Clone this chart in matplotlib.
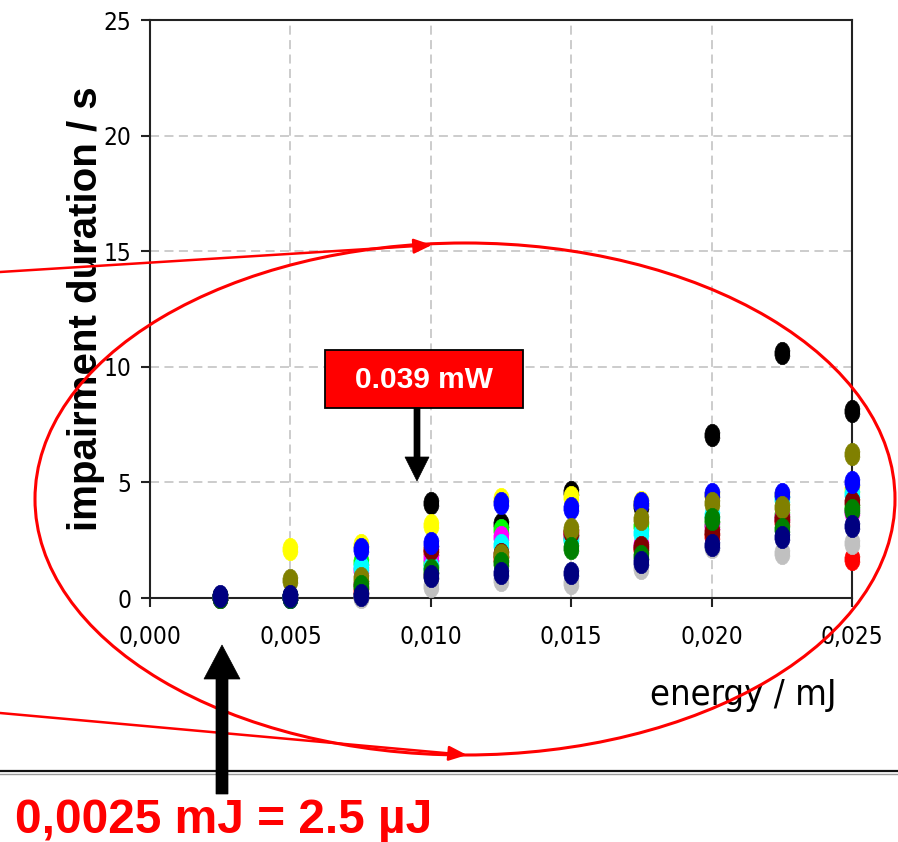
import matplotlib
matplotlib.use("Agg")
import matplotlib.pyplot as plt
import numpy as np
from matplotlib import font_manager
from matplotlib.font_manager import FontProperties
from matplotlib.patches import Ellipse, Polygon, Rectangle, FancyArrowPatch
from matplotlib.lines import Line2D
from matplotlib.path import Path
from matplotlib.transforms import Affine2D
from matplotlib.ticker import FuncFormatter

# ---- measurement data: impairment duration (s) vs. pulse energy (mJ) ----
energy = [0.0025, 0.005, 0.0075, 0.010, 0.0125, 0.015, 0.0175, 0.020, 0.0225, 0.025]

dur_red       = [0.05, 0.05, 0.30, 2.00, 1.70, 2.80, 2.10, 2.70, 3.30, 1.70]
dur_black     = [0.05, 0.05, 0.10, 4.10, 3.20, 4.60, 4.00, 7.05, 10.60, 8.10]
dur_yellow    = [0.05, 2.10, 2.30, 3.15, 4.30, 4.35, 4.15, 4.45, 4.45, 4.70]
dur_silver    = [0.05, 0.05, 0.05, 0.50, 0.80, 0.65, 1.30, 2.20, 1.95, 2.40]
dur_lime      = [0.05, 0.05, 1.55, 1.50, 2.95, 2.60, 3.10, 3.20, 3.60, 3.90]
dur_magenta   = [0.05, 0.05, 1.20, 1.75, 2.65, 2.70, 2.30, 3.10, 3.50, 3.70]
dur_cyan      = [0.05, 0.05, 1.35, 1.35, 2.30, 2.50, 2.80, 3.60, 4.30, 4.50]
dur_maroon    = [0.05, 0.05, 0.60, 2.10, 1.90, 2.85, 2.20, 2.85, 3.40, 4.15]
dur_blue      = [0.05, 0.05, 2.10, 2.40, 4.10, 3.90, 4.10, 4.50, 4.50, 5.00]
dur_olive     = [0.05, 0.80, 0.85, 1.00, 1.85, 3.00, 3.40, 4.10, 3.95, 6.25]
dur_darkgreen = [0.05, 0.05, 0.50, 1.20, 1.50, 2.15, 1.80, 3.40, 3.00, 3.80]
dur_navy      = [0.10, 0.10, 0.15, 0.95, 1.10, 1.10, 1.55, 2.30, 2.65, 3.10]

series = [
    (dur_red, "#FF0000"),
    (dur_black, "#000000"),
    (dur_yellow, "#FFFF00"),
    (dur_silver, "#C0C0C0"),
    (dur_lime, "#00FF00"),
    (dur_magenta, "#FF00FF"),
    (dur_cyan, "#00FFFF"),
    (dur_maroon, "#800000"),
    (dur_blue, "#0000FF"),
    (dur_olive, "#808000"),
    (dur_darkgreen, "#008000"),
    (dur_navy, "#000080"),
]

x_ticks = [0.000, 0.005, 0.010, 0.015, 0.020, 0.025]
y_ticks = [0, 5, 10, 15, 20, 25]

# ---- fonts: prefer a narrow sans face for the axis texts ----
plt.rcParams["font.family"] = ["Liberation Sans", "DejaVu Sans"]
narrow_fp = None
for f in font_manager.fontManager.ttflist:
    nm = f.name.lower()
    fn = f.fname.lower()
    is_narrow = ("narrow" in nm or "condensed" in nm or "narrow" in fn
                 or "condensed" in fn or f.stretch in ("condensed", "semi-condensed"))
    if is_narrow and f.style == "normal" and "serif" not in nm and "mono" not in nm \
            and ("bold" not in fn) and ("light" not in fn):
        narrow_fp = FontProperties(fname=f.fname)
        break
if narrow_fp is not None:
    tick_fs, xlab_fs = 17.5, 26
else:
    narrow_fp = FontProperties(family="Liberation Sans")
    tick_fs, xlab_fs = 17, 24

W, H, DPI = 898, 842, 100
fig = plt.figure(figsize=(W / DPI, H / DPI), dpi=DPI)
fig.patch.set_facecolor("white")

# transform for annotation shapes given in pixels, origin at top-left
pix = Affine2D().scale(1 / DPI, -1 / DPI).translate(0, H / DPI) + fig.dpi_scale_trans

ax = fig.add_axes([150 / W, 1 - 598 / H, 702 / W, 578 / H])
ax.set_xlim(0, 0.025)
ax.set_ylim(0, 25)

# slightly tall octagon-like dot marker
t = np.linspace(0, 2 * np.pi, 17)[:-1] + np.pi / 16
dot = Path(np.column_stack([0.68 * np.cos(t), np.sin(t)]) * 0.5)

for vals, col in series:
    ax.plot(energy, vals, linestyle="none", marker=dot, markersize=16,
            markerfacecolor=col, markeredgecolor=col, markeredgewidth=0.5,
            clip_on=False, zorder=3)

ax.set_xticks(x_ticks)
ax.set_yticks(y_ticks)
ax.xaxis.set_major_formatter(FuncFormatter(lambda v, p: f"{v:.3f}".replace(".", ",")))
ax.yaxis.set_major_formatter(FuncFormatter(lambda v, p: f"{v:.0f}"))
ax.grid(True, color="#C8C8C8", linestyle=(0, (5, 3)), linewidth=1.3)
ax.set_axisbelow(True)
for s in ax.spines.values():
    s.set_linewidth(1.5)
    s.set_color("#222222")
ax.tick_params(axis="both", direction="out", length=6.5, width=1.5, color="#222222")
ax.tick_params(axis="x", pad=13)
ax.tick_params(axis="y", pad=7)
for lab in ax.get_xticklabels() + ax.get_yticklabels():
    lab.set_fontproperties(narrow_fp)
    lab.set_fontsize(tick_fs)

ax.set_ylabel("impairment duration / s", fontsize=29, fontweight="bold",
              ha="center", va="center")
ax.yaxis.set_label_coords((86 - 150) / 702, 0.5)
xl = ax.set_xlabel("energy / mJ", ha="center", va="center")
xl.set_fontproperties(narrow_fp)
xl.set_fontsize(xlab_fs)
ax.xaxis.set_label_coords((743 - 150) / 702, (598 - 695) / 578)

# ---- annotations ----
# horizontal divider
fig.add_artist(Line2D([0, W], [771, 771], transform=pix, color="#111111", lw=1.6))
fig.add_artist(Line2D([0, W], [774, 774], transform=pix, color="#9A9A9A", lw=1.0))

# red ellipse and the two leader arrows
fig.add_artist(Ellipse((465, 499), 860, 512, transform=pix, fill=False,
                       edgecolor="#FF0000", lw=2.2, zorder=5))
for (x0, y0), (x1, y1) in [((0, 272), (432, 245)), ((0, 713), (467, 755))]:
    fig.add_artist(FancyArrowPatch((x0, y0), (x1, y1), transform=pix,
                                   arrowstyle="-|>,head_length=1.1,head_width=0.45",
                                   mutation_scale=10, shrinkA=0, shrinkB=0,
                                   color="#FF0000", lw=1.8, zorder=5))

# power label box with arrow
fig.add_artist(Rectangle((325, 350), 198, 58, transform=pix, facecolor="#FF0000",
                         edgecolor="#000000", lw=1.3, zorder=6))
fig.text(424, 380, "0.039 mW", transform=pix, color="white", fontsize=21.5,
         fontweight="bold", ha="center", va="center", zorder=7)
fig.add_artist(Polygon([(414, 408), (420, 408), (420, 457), (429, 457),
                        (417, 481), (405, 457), (414, 457)],
                       closed=True, transform=pix, facecolor="black",
                       edgecolor="black", lw=0.5, zorder=6))

# energy pointer arrow
fig.add_artist(Polygon([(216, 794), (228, 794), (228, 679), (240, 679),
                        (222, 645), (204, 679), (216, 679)],
                       closed=True, transform=pix, facecolor="black",
                       edgecolor="black", lw=0.5, zorder=6))

fig.text(15, 833, "0,0025 mJ = 2.5 µJ", transform=pix, color="#FF0000",
         fontsize=34.5, fontweight="bold", ha="left", va="baseline", zorder=7)

fig.savefig("out.png", dpi=DPI, facecolor="white")
